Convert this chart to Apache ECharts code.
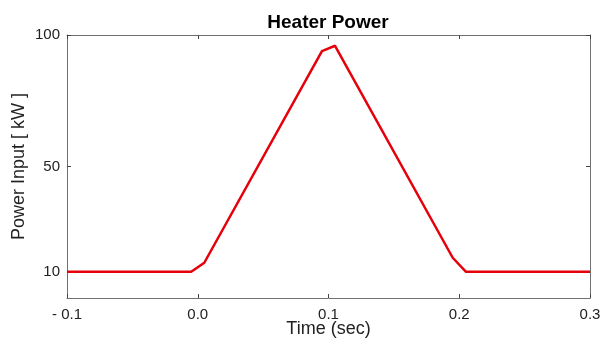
<!DOCTYPE html>
<html>
<head>
<meta charset="utf-8">
<script src="https://cdn.jsdelivr.net/npm/echarts@6/dist/echarts.min.js"></script>
<style>
  html, body { margin: 0; padding: 0; background: #fff; }
  #chart { width: 603px; height: 343px; }
</style>
</head>
<body>
<div id="chart"></div>
<script>
// heater power profile
const timeSec = [-0.1, -0.005, 0.005, 0.095, 0.105, 0.195, 0.205, 0.3];
const powerKW = [10, 10, 13.4, 93.9, 95.9, 15.3, 10, 10];

const xTicks = [-0.1, 0.0, 0.1, 0.2, 0.3];
const yTicks = [10, 50, 100];

const fontFamily = '"Liberation Sans", Arial, Helvetica, sans-serif';
const axisColor = '#707070';

const chart = echarts.init(document.getElementById('chart'));

function fmtX(v) {
  if (v < 0) return '- ' + Math.abs(v).toFixed(1);
  return v.toFixed(1);
}

const options = {
  animation: false,
  title: {
    text: 'Heater Power',
    left: 323,
    top: 8,
    textAlign: 'center',
    textStyle: { fontFamily: fontFamily, fontSize: 19, fontWeight: 'bold', color: '#000' }
  },
  grid: { left: 67, right: 13, top: 35, bottom: 45, outerBoundsMode: 'none', containLabel: false },
  xAxis: [
    {
      type: 'value',
      min: -0.1,
      max: 0.3,
      interval: 0.1,
      name: 'Time (sec)',
      nameLocation: 'middle',
      nameGap: 22,
      nameMoveOverlap: false,
      nameTextStyle: { fontFamily: fontFamily, fontSize: 18, color: '#222' },
      axisLine: { show: true, onZero: false, lineStyle: { color: axisColor, width: 1 } },
      axisTick: { show: true, inside: true, length: 4, lineStyle: { color: '#444' }, customValues: xTicks },
      axisLabel: { fontFamily: fontFamily, fontSize: 15, color: '#222', margin: 9, formatter: fmtX, customValues: xTicks },
      splitLine: { show: false }
    },
    {
      type: 'value',
      position: 'top',
      min: -0.1,
      max: 0.3,
      interval: 0.1,
      axisLine: { show: true, onZero: false, lineStyle: { color: axisColor, width: 1 } },
      axisTick: { show: true, inside: true, length: 4, lineStyle: { color: '#444' } },
      axisLabel: { show: false },
      splitLine: { show: false }
    }
  ],
  yAxis: [
    {
      type: 'value',
      min: 0,
      max: 100,
      name: 'Power Input [ kW ]',
      nameLocation: 'middle',
      nameGap: 39,
      nameMoveOverlap: false,
      nameTextStyle: { fontFamily: fontFamily, fontSize: 18, color: '#222' },
      axisLine: { show: true, onZero: false, lineStyle: { color: axisColor, width: 1 } },
      axisTick: { show: true, inside: true, length: 4, lineStyle: { color: '#444' }, customValues: yTicks },
      axisLabel: { fontFamily: fontFamily, fontSize: 15, color: '#222', margin: 7, customValues: yTicks },
      splitLine: { show: false }
    },
    {
      type: 'value',
      position: 'right',
      min: 0,
      max: 100,
      axisLine: { show: true, onZero: false, lineStyle: { color: axisColor, width: 1 } },
      axisTick: { show: true, inside: true, length: 4, lineStyle: { color: '#444' }, customValues: yTicks },
      axisLabel: { show: false },
      splitLine: { show: false }
    }
  ],
  series: [
    {
      type: 'line',
      data: timeSec.map((t, i) => [t, powerKW[i]]),
      showSymbol: false,
      symbol: 'none',
      lineStyle: { color: '#e6000a', width: 2.5 },
      z: 5
    }
  ]
};

chart.setOption(options);
</script>
</body>
</html>
